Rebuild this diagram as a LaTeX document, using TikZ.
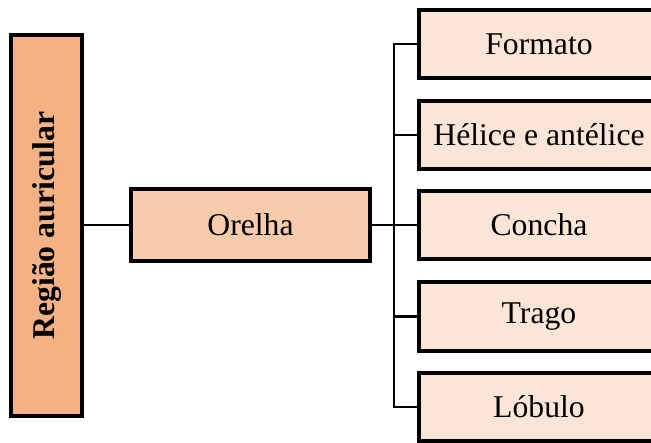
\documentclass[tikz,border=0pt]{standalone}
\usepackage{fontspec}
\setmainfont{Liberation Serif}
\definecolor{cDark}{HTML}{F4B183}
\definecolor{cMid}{HTML}{F8CBAD}
\definecolor{cLight}{HTML}{FBE5D6}
\begin{document}
\begin{tikzpicture}[x=1bp,y=-1bp,
  box/.style={draw=black,line width=4bp,inner sep=0pt,outer sep=0pt,align=center,
    font=\fontsize{31.7bp}{36bp}\selectfont},
  leaf/.style={box,fill=cLight,minimum width=240bp,minimum height=68bp},
  link/.style={draw=black,line width=2.6bp}]
\useasboundingbox (0,0) rectangle (651,443);
\clip (0,0) rectangle (651,443);
\fill[white] (0,0) rectangle (651,443);
\node[box,fill=cDark,minimum width=71bp,minimum height=381bp] (reg) at (46.5,225.5)
  {\rotatebox{90}{\bfseries Região auricular}};
\node[box,fill=cMid,minimum width=238.4bp,minimum height=72.6bp] (ore) at (250.5,225) {Orelha};
\node[leaf] (f1) at (539,44) {Formato};
\node[leaf] (f2) at (539,135) {Hélice e antélice};
\node[leaf] (f3) at (539,225) {Concha};
\node[leaf] (f4) at (539,316.5) {Trago};
\node[leaf] (f5) at (539,407) {Lóbulo};
\coordinate (bus) at (394,225);
\draw[link] (reg.east |- ore.west) -- (ore.west);
\draw[link] (ore.east) -- (f3.west);
\draw[link] (f1.west) -- (bus |- f1.west) -- (bus |- f5.west) -- (f5.west);
\draw[link] (bus |- f2.west) -- (f2.west);
\draw[link] (bus |- f4.west) -- (f4.west);
\end{tikzpicture}
\end{document}
